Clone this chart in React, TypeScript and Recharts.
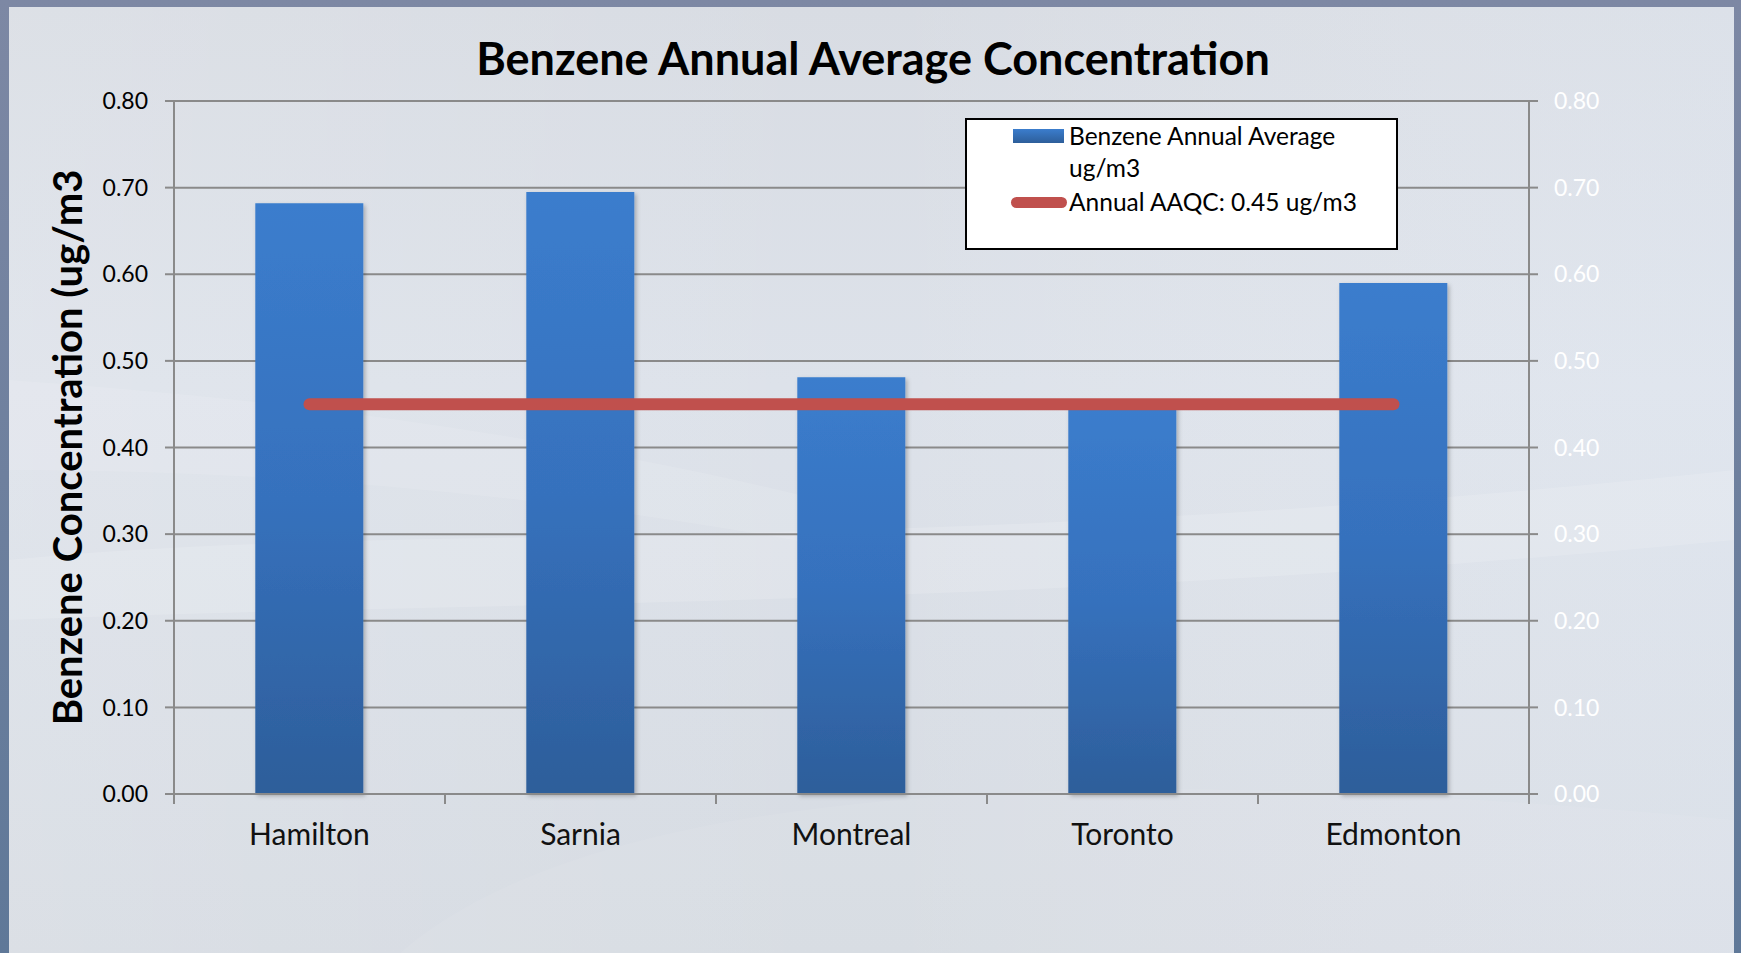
import React from 'react'
import {
  ComposedChart,
  Bar,
  Line,
  XAxis,
  YAxis,
  CartesianGrid,
} from 'recharts'

// Benzene annual averages by city, with the Ontario AAQC limit drawn across.
const cities = ['Hamilton', 'Sarnia', 'Montreal', 'Toronto', 'Edmonton']
const benzeneAvg = [0.682, 0.695, 0.481, 0.45, 0.59]
const aaqcLimit = [0.45, 0.45, 0.45, 0.45, 0.45]
const yTicks = [0, 0.1, 0.2, 0.3, 0.4, 0.5, 0.6, 0.7, 0.8]

const BAR_NAME = 'Benzene Annual Average ug/m3'
const LINE_NAME = 'Annual AAQC: 0.45 ug/m3'

const W = 1741
const H = 953
const FONT = 'Lato, "Open Sans", sans-serif'
const GRID = '#8a8a8a'
const RED = '#c0504d'

const data = cities.map((c, i) => ({
  city: c,
  benzene: benzeneAvg[i],
  aaqc: aaqcLimit[i],
}))

// category label plus the boundary tick marks (Excel puts ticks between categories)
const CityTick = (props: any) => {
  const { x, y, payload } = props
  const off = payload?.offset ?? 0
  const last = payload?.index === cities.length - 1
  return (
    <g>
      <line x1={x - off} x2={x - off} y1={y} y2={y + 10} stroke={GRID} strokeWidth={2} />
      {last && <line x1={x + off} x2={x + off} y1={y} y2={y + 10} stroke={GRID} strokeWidth={2} />}
      <text x={x} y={y + 51} textAnchor="middle" fontSize={30} fontFamily={FONT} fill="#111">
        {payload.value}
      </text>
    </g>
  )
}

const YTitle = (props: any) => {
  const vb = props.viewBox || { x: 0, y: 0, height: 0 }
  const cx = vb.x + 67
  const cy = vb.y + vb.height / 2
  return (
    <text
      x={cx}
      y={cy}
      transform={`rotate(-90 ${cx} ${cy})`}
      textAnchor="middle"
      dominantBaseline="central"
      fontSize={40}
      fontWeight={700}
      fontFamily={FONT}
      fill="#000"
    >
      Benzene Concentration (ug/m3
    </text>
  )
}

const Background = () => (
  <svg width={W} height={H} style={{ position: 'absolute', left: 0, top: 0 }}>
    <defs>
      <linearGradient id="frame" x1="0" y1="0" x2="0" y2="1">
        <stop offset="0%" stopColor="#7d88a4" />
        <stop offset="100%" stopColor="#5f7898" />
      </linearGradient>
      <linearGradient id="panel" x1="0" y1="0" x2="0" y2="1">
        <stop offset="0%" stopColor="#d8dce3" />
        <stop offset="40%" stopColor="#dde2ea" />
        <stop offset="100%" stopColor="#d6dbe2" />
      </linearGradient>
      <linearGradient id="panelSide" x1="0" y1="0" x2="1" y2="0">
        <stop offset="0%" stopColor="#ffffff" stopOpacity={0.12} />
        <stop offset="50%" stopColor="#ffffff" stopOpacity={0} />
        <stop offset="100%" stopColor="#e8f0fb" stopOpacity={0.25} />
      </linearGradient>
    </defs>
    <rect x={0} y={0} width={W} height={H} fill="url(#frame)" />
    <rect x={9} y={7} width={W - 16} height={H - 7} fill="url(#panel)" />
    <rect x={9} y={7} width={W - 16} height={H - 7} fill="url(#panelSide)" />
    <path d="M9 560 C 400 520, 900 560, 1734 470 L 1734 540 C 1000 610, 500 600, 9 620 Z" fill="#ffffff" opacity={0.14} />
    <path d="M9 380 C 300 400, 600 440, 900 520 L 900 560 C 600 500, 300 470, 9 470 Z" fill="#ffffff" opacity={0.1} />
    <path d="M400 953 C 600 780, 1100 760, 1734 820 L 1734 953 Z" fill="#ffffff" opacity={0.06} />
  </svg>
)

const LegendBox = () => (
  <div
    style={{
      position: 'absolute',
      left: 965,
      top: 118,
      width: 429,
      height: 128,
      background: '#fff',
      border: '2px solid #000',
      fontFamily: FONT,
      fontSize: 24.5,
      color: '#000',
    }}
  >
    <div style={{ position: 'absolute', left: 46, top: 9, width: 51, height: 14, background: 'linear-gradient(#3b7dcd, #2d5e9a)' }} />
    <div style={{ position: 'absolute', left: 102, top: 0, width: 300, lineHeight: '32px' }}>{BAR_NAME}</div>
    <div style={{ position: 'absolute', left: 44, top: 77, width: 56, height: 11, borderRadius: 6, background: RED }} />
    <div style={{ position: 'absolute', left: 102, top: 66, lineHeight: '32px', whiteSpace: 'nowrap' }}>{LINE_NAME}</div>
  </div>
)

export default function App() {
  return (
    <div style={{ position: 'absolute', left: 0, top: 0, width: W, height: H, overflow: 'hidden' }}>
      <Background />
      <div
        style={{
          position: 'absolute',
          left: 0,
          top: 29,
          width: 1746,
          textAlign: 'center',
          fontFamily: FONT,
          fontWeight: 700,
          fontSize: 45,
          lineHeight: '58px',
          color: '#000',
        }}
      >
        Benzene Annual Average Concentration
      </div>
      <div style={{ position: 'absolute', left: 0, top: 0 }}>
        <ComposedChart
          width={W}
          height={H}
          data={data}
          margin={{ top: 101, right: 0, left: 0, bottom: 59 }}
          barCategoryGap="30%"
        >
          <defs>
            <linearGradient id="barGrad" x1="0" y1="0" x2="0" y2="1">
              <stop offset="0%" stopColor="#3b7dcd" />
              <stop offset="50%" stopColor="#3671bd" />
              <stop offset="100%" stopColor="#2d5e9a" />
            </linearGradient>
            <filter id="barShadow" x="-10%" y="-10%" width="130%" height="120%">
              <feDropShadow dx={2} dy={2} stdDeviation={2} floodColor="#000" floodOpacity={0.25} />
            </filter>
          </defs>
          <CartesianGrid vertical={false} stroke={GRID} strokeWidth={2} yAxisId="left" />
          <XAxis
            dataKey="city"
            height={100}
            axisLine={{ stroke: GRID, strokeWidth: 2 }}
            tickLine={false}
            tickSize={0}
            tickMargin={0}
            interval={0}
            tick={<CityTick />}
          />
          <YAxis
            yAxisId="left"
            width={174}
            domain={[0, 0.8]}
            ticks={yTicks}
            interval={0}
            tickFormatter={(v) => Number(v).toFixed(2)}
            axisLine={{ stroke: GRID, strokeWidth: 2 }}
            tickLine={{ stroke: GRID, strokeWidth: 2 }}
            tickSize={9}
            tickMargin={17}
            tick={{ fill: '#000', fontSize: 23, fontFamily: FONT }}
            label={<YTitle />}
          />
          <YAxis
            yAxisId="right"
            orientation="right"
            width={212}
            domain={[0, 0.8]}
            ticks={yTicks}
            interval={0}
            tickFormatter={(v) => Number(v).toFixed(2)}
            axisLine={{ stroke: GRID, strokeWidth: 2 }}
            tickLine={{ stroke: GRID, strokeWidth: 2 }}
            tickSize={9}
            tickMargin={16}
            tick={{ fill: '#ffffff', fontSize: 23, fontFamily: FONT }}
          />
          <Bar
            yAxisId="left"
            dataKey="benzene"
            name={BAR_NAME}
            fill="url(#barGrad)"
            filter="url(#barShadow)"
            isAnimationActive={false}
          />
          <Line
            yAxisId="right"
            dataKey="aaqc"
            name={LINE_NAME}
            stroke={RED}
            strokeWidth={12}
            strokeLinecap="round"
            dot={false}
            activeDot={false}
            isAnimationActive={false}
          />
        </ComposedChart>
      </div>
      <LegendBox />
    </div>
  )
}
